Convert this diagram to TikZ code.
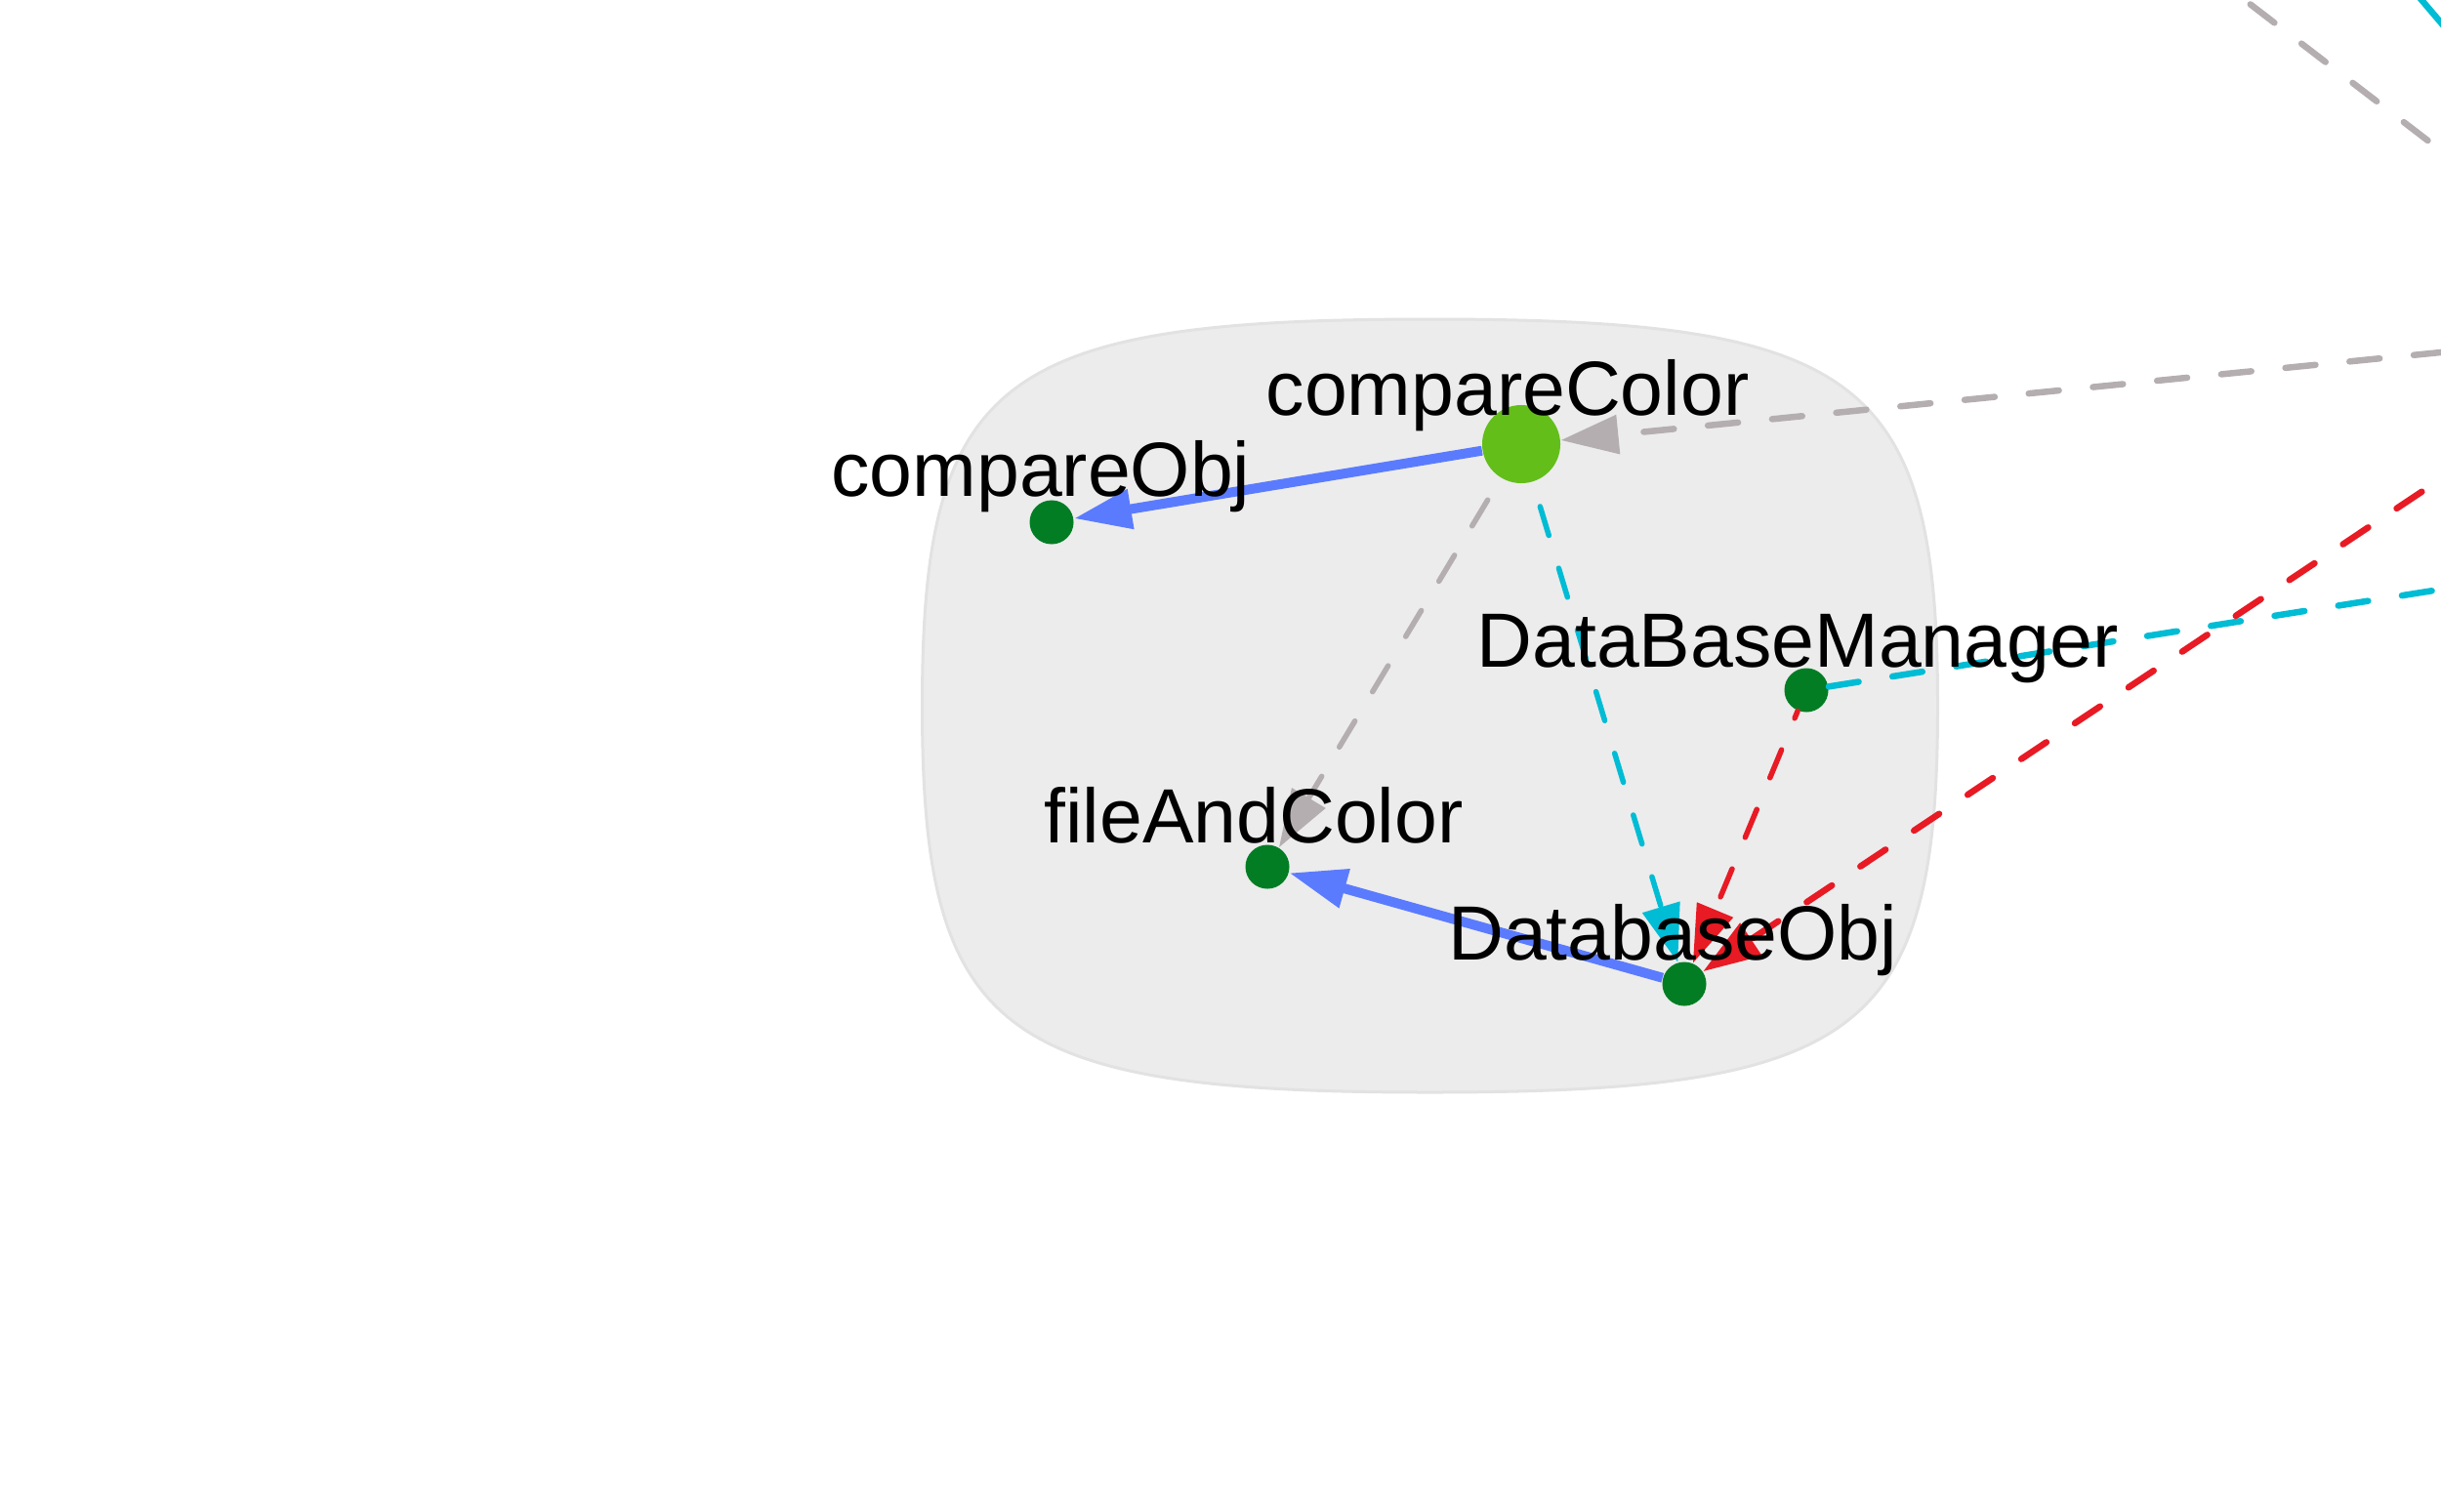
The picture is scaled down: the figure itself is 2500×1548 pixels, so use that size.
\documentclass[tikz,border=0pt]{standalone}
\usepackage{fontspec}
\setmainfont{Liberation Sans}
\usetikzlibrary{arrows.meta}

\definecolor{dgreen}{RGB}{2,125,36}
\definecolor{lgreen}{RGB}{100,190,26}
\definecolor{eblue}{RGB}{91,123,255}
\definecolor{egray}{RGB}{180,174,176}
\definecolor{ecyan}{RGB}{0,188,212}
\definecolor{ered}{RGB}{232,26,36}
\definecolor{clfill}{RGB}{236,236,236}
\definecolor{cldraw}{RGB}{226,226,226}

\begin{document}
\begin{tikzpicture}[x=0.01cm,y=-0.01cm,
  dot/.style={circle,fill=dgreen,inner sep=0pt,minimum size=0.45cm},
  bigdot/.style={circle,fill=lgreen,inner sep=0pt,minimum size=0.8cm},
  lbl/.style={anchor=base,inner sep=0pt,font=\fontsize{22.4}{27}\selectfont},
  tip/.style={-{Triangle[length=0.59cm,width=0.39cm]}},
  bluedge/.style={line width=0.1cm,draw=eblue},
  intdash/.style={line width=0.055cm,line cap=round,dash pattern=on 0.31cm off 0.35cm},
  extdash/.style={line width=0.065cm,line cap=round,dash pattern=on 0.31cm off 0.35cm},
  cluster/.style={fill=clfill,draw=cldraw,line width=0.03cm}
]
\useasboundingbox (0,0) rectangle (2500,1548);
\clip (0,0) rectangle (2500,1548);

% cluster background
\path[cluster] (1984.5,723)
  .. controls (1984.5,1059.6) and (1906.5,1119) .. (1464.5,1119)
  .. controls (1022.5,1119) and (944.5,1059.6) .. (944.5,723)
  .. controls (944.5,386.4) and (1022.5,327) .. (1464.5,327)
  .. controls (1906.5,327) and (1984.5,386.4) .. cycle;

% nodes
\node[bigdot] (cc) at (1558,455) {};
\node[dot] (cobj) at (1077,535) {};
\node[dot] (dbm) at (1850,707) {};
\node[dot] (fac) at (1298,888) {};
\node[dot] (dbo) at (1725,1008) {};

% off-picture end points
\coordinate (e1) at (2700,341);
\coordinate (e2) at (2700,572);
\coordinate (e3) at (2700,357);
\coordinate (e4a) at (2200,-76);
\coordinate (e4b) at (2700,308);
\coordinate (e5a) at (2430,-59);
\coordinate (e5b) at (2560,94);

% external edges
\draw[extdash,egray] (e4a) -- (e4b);
\draw[line width=0.065cm,ecyan] (e5a) -- (e5b);
\draw[extdash,egray,tip] (e1) -- (cc);
\draw[extdash,ecyan] (dbm) -- (e2);
\draw[extdash,ered,tip] (e3) -- (dbo);

% internal edges
\draw[intdash,egray,tip,dash phase=0.40cm] (cc) -- (fac);
\draw[intdash,ecyan,tip,dash phase=0.40cm] (cc) -- (dbo);
\draw[intdash,ered,tip,dash phase=0.23cm] (dbm) -- (dbo);
\draw[bluedge,tip] (cc) -- (cobj);
\draw[bluedge,tip] (dbo) -- (fac);

% labels
\node[lbl] (tcc) at (1544,425) {compareColor};
\node[lbl] (tcobj) at (1066,508) {compareObj};
\node[lbl] (tdbm) at (1841,683) {DataBaseManager};
\node[lbl] (tfac) at (1284,863) {fileAndColor};
\node[lbl] (tdbo) at (1713,983) {DatabaseObj};
\end{tikzpicture}
\end{document}
